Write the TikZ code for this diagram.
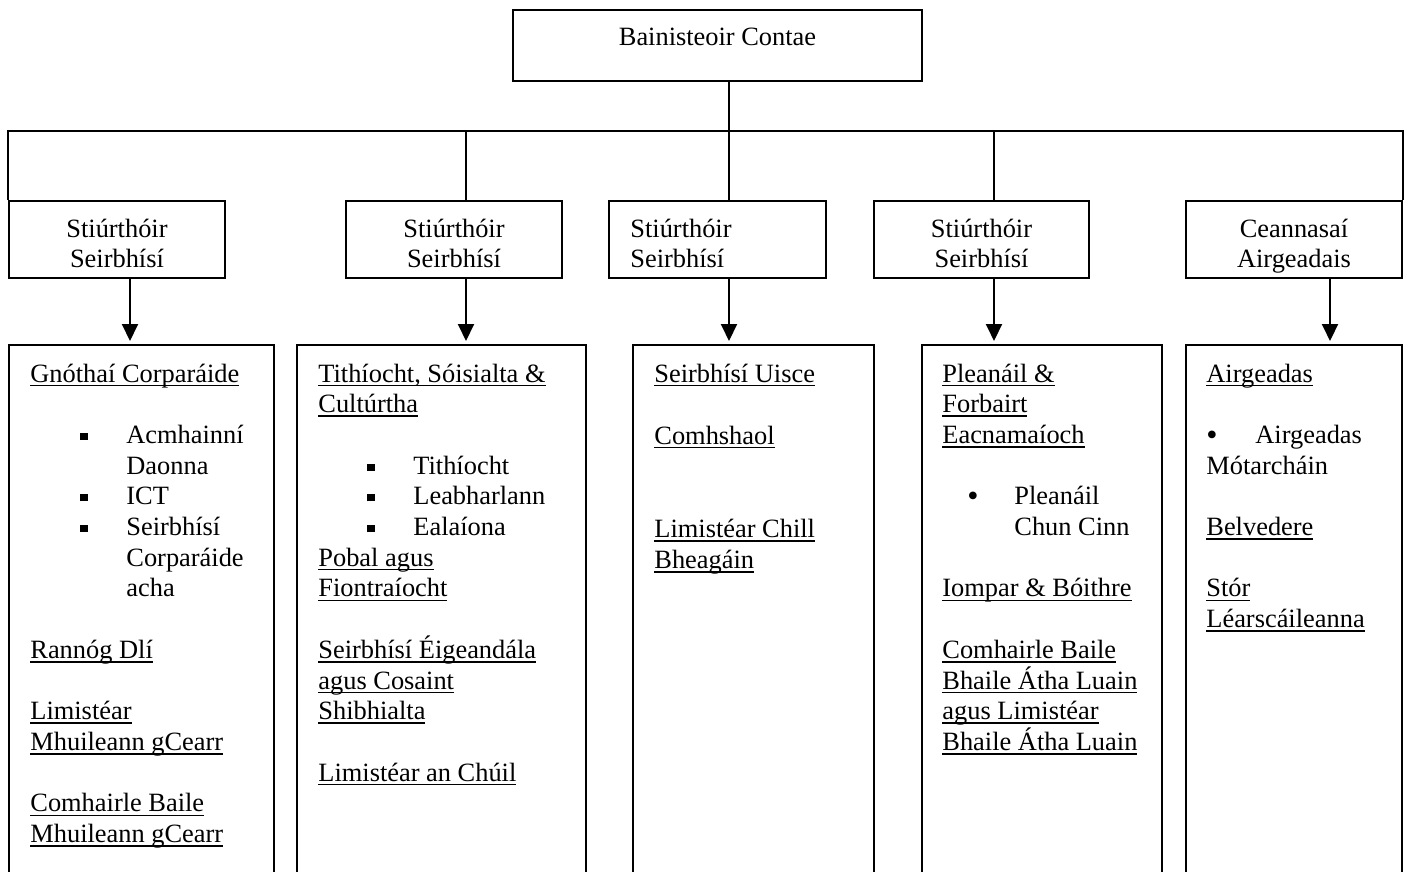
\documentclass[tikz,border=0pt]{standalone}
\usepackage{fontspec}
\setmainfont{Liberation Serif}
\usetikzlibrary{fit,arrows.meta}
\newcommand\ulx[1]{\leavevmode\setbox0\hbox{#1}\rlap{\rule[-2.1pt]{\wd0}{0.75pt}}\box0}
\newcommand\sqb{\rule[1.7pt]{3.6pt}{3.6pt}}
\newcommand\rdot{{\fontsize{16}{16}\selectfont\raisebox{-0.9pt}{•}}}
\newcommand\bitem[3]{\leavevmode\makebox[#2][l]{\hspace*{#1}#3}}
\begin{document}
\begin{tikzpicture}[x=0.5pt,y=-0.5pt,
  box/.style={draw,line width=1pt,inner sep=0pt},
  txt/.style={inner sep=0pt,font=\fontsize{13.2}{15.25}\selectfont},
  body/.style={inner sep=0pt,font=\fontsize{13.2}{15.35}\selectfont,anchor=base west},
  link/.style={line width=1pt},
  arr/.style={line width=1pt,-{Triangle[length=8.5pt,width=8pt]},shorten >=1.5pt}]
\useasboundingbox (0,0) rectangle (1407,872);
\clip (0,0) rectangle (1407,872);
% boxes
\node[box, fit={(513,10) (922,81)}] (top) {};
\node[box, fit={(9,201) (225,278)}] (s1) {};
\node[box, fit={(346,201) (562,278)}] (s2) {};
\node[box, fit={(609,201) (826,278)}] (s3) {};
\node[box, fit={(874,201) (1089,278)}] (s4) {};
\node[box, fit={(1186,201) (1402,278)}] (s5) {};
\node[box, fit={(9,345) (274,900)}] (A) {};
\node[box, fit={(297,345) (586,900)}] (B) {};
\node[box, fit={(633,345) (874,900)}] (C) {};
\node[box, fit={(922,345) (1162,900)}] (D) {};
\node[box, fit={(1186,345) (1402,900)}] (E) {};
% texts
\node[txt,anchor=base] (ttop) at (717.5,46) {Bainisteoir Contae};
\node[txt,anchor=base] (t1) at (117,237) {\parbox[t]{100pt}{\centering Stiúrthóir\\Seirbhísí}};
\node[txt,anchor=base] (t2) at (454,237) {\parbox[t]{100pt}{\centering Stiúrthóir\\Seirbhísí}};
\node[txt,anchor=base west] (t3) at (630,237) {\parbox[t]{100pt}{\raggedright Stiúrthóir\\Seirbhísí}};
\node[txt,anchor=base] (t4) at (981.5,237) {\parbox[t]{100pt}{\centering Stiúrthóir\\Seirbhísí}};
\node[txt,anchor=base] (t5) at (1294,237) {\parbox[t]{100pt}{\centering Ceannasaí\\Airgeadais}};
\node[body] (cA) at (30,382) {\parbox[t]{125pt}{\raggedright
\ulx{Gnóthaí Corparáide}\\[\baselineskip]
\bitem{25pt}{48pt}{\sqb}Acmhainní\\
\hspace*{48pt}Daonna\\
\bitem{25pt}{48pt}{\sqb}ICT\\
\bitem{25pt}{48pt}{\sqb}Seirbhísí\\
\hspace*{48pt}Corparáide\\
\hspace*{48pt}acha\\[\baselineskip]
\ulx{Rannóg Dlí}\\[\baselineskip]
\ulx{Limistéar}\\
\ulx{Mhuileann gCearr}\\[\baselineskip]
\ulx{Comhairle Baile}\\
\ulx{Mhuileann gCearr}}};
\node[body] (cB) at (318,382) {\parbox[t]{140pt}{\raggedright
\ulx{Tithíocht, Sóisialta \&}\\
\ulx{Cultúrtha}\\[\baselineskip]
\bitem{24.5pt}{47.5pt}{\sqb}Tithíocht\\
\bitem{24.5pt}{47.5pt}{\sqb}Leabharlann\\
\bitem{24.5pt}{47.5pt}{\sqb}Ealaíona\\
\ulx{Pobal agus}\\
\ulx{Fiontraíocht}\\[\baselineskip]
\ulx{Seirbhísí Éigeandála}\\
\ulx{agus Cosaint}\\
\ulx{Shibhialta}\\[\baselineskip]
\ulx{Limistéar an Chúil}}};
\node[body,font=\fontsize{13.2}{15.55}\selectfont] (cC) at (654,382) {\parbox[t]{110pt}{\raggedright
\ulx{Seirbhísí Uisce}\\[\baselineskip]
\ulx{Comhshaol}\\[2\baselineskip]
\ulx{Limistéar Chill}\\
\ulx{Bheagáin}}};
\node[body] (cD) at (942,382) {\parbox[t]{110pt}{\raggedright
\ulx{Pleanáil \&}\\
\ulx{Forbairt}\\
\ulx{Eacnamaíoch}\\[\baselineskip]
\bitem{12.5pt}{36pt}{\rdot}Pleanáil\\
\hspace*{36pt}Chun Cinn\\[\baselineskip]
\ulx{Iompar \& Bóithre}\\[\baselineskip]
\ulx{Comhairle Baile}\\
\ulx{Bhaile Átha Luain}\\
\ulx{agus Limistéar}\\
\ulx{Bhaile Átha Luain}}};
\node[body] (cE) at (1206,382) {\parbox[t]{100pt}{\raggedright
\ulx{Airgeadas}\\[\baselineskip]
\bitem{0pt}{24.5pt}{\rdot}Airgeadas\\
Mótarcháin\\[\baselineskip]
\ulx{Belvedere}\\[\baselineskip]
\ulx{Stór}\\
\ulx{Léarscáileanna}}};
% connectors
\coordinate (bus) at (0,131);
\coordinate (v2) at (466,0);
\coordinate (v3) at (729,0);
\coordinate (v4) at (994,0);
\coordinate (a1) at (130,0);
\coordinate (a5) at (1330,0);
\draw[link] (v3 |- top.south) -- (v3 |- s3.north);
\draw[link] (s1.north west) |- (bus -| s5.north east) -- (s5.north east);
\draw[link] (v2 |- bus) -- (v2 |- s2.north);
\draw[link] (v4 |- bus) -- (v4 |- s4.north);
\draw[arr] (a1 |- s1.south) -- (a1 |- A.north);
\draw[arr] (v2 |- s2.south) -- (v2 |- B.north);
\draw[arr] (v3 |- s3.south) -- (v3 |- C.north);
\draw[arr] (v4 |- s4.south) -- (v4 |- D.north);
\draw[arr] (a5 |- s5.south) -- (a5 |- E.north);
\end{tikzpicture}
\end{document}
